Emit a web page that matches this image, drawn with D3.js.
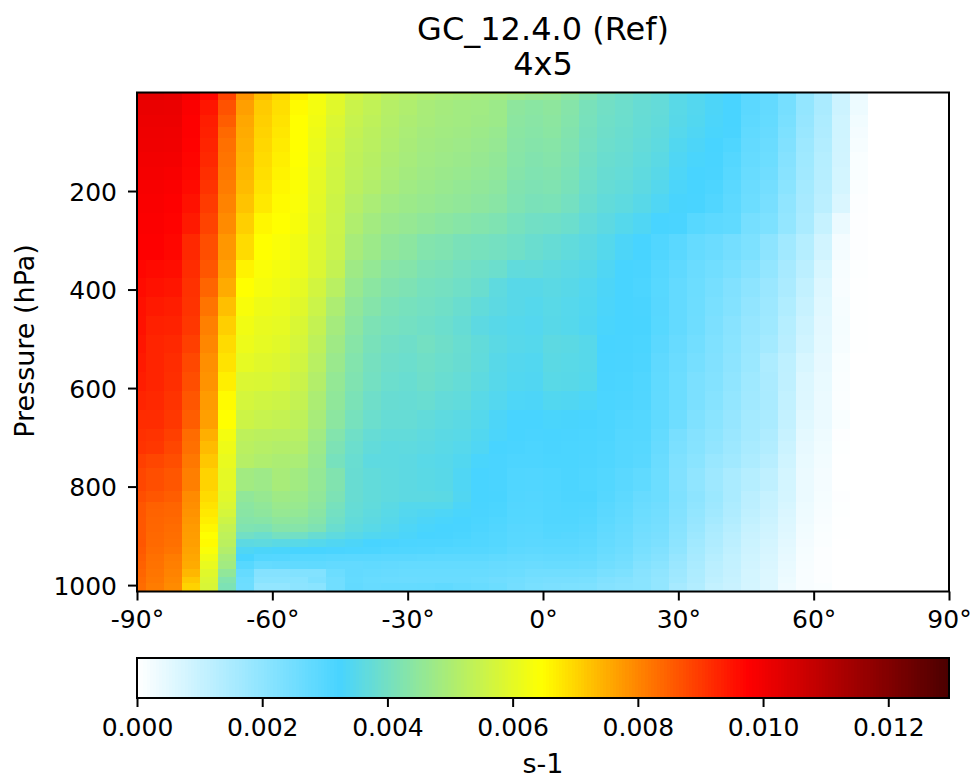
<!DOCTYPE html>
<html><head><meta charset="utf-8">
<script src="https://cdn.jsdelivr.net/npm/d3@7"></script>
<style>html,body{margin:0;padding:0;background:#fff}svg{display:block}text{font-family:"DejaVu Sans";fill:#000}</style>
</head><body><svg id="c" width="973" height="783"></svg>
<script>
const titleLines = ["GC_12.4.0 (Ref)", "4x5"];
const yLabel = "Pressure (hPa)";
const unitLabel = "s-1";
const latTicks = [-90,-60,-30,0,30,60,90];
const presTicks = [200,400,600,800,1000];
const barTicks = [0,0.002,0.004,0.006,0.008,0.010,0.012];
const latEdges = [-90,-88,-84,-80,-76,-72,-68,-64,-60,-56,-52,-48,-44,-40,-36,-32,-28,-24,-20,-16,-12,-8,-4,0,4,8,12,16,20,24,28,32,36,40,44,48,52,56,60,64,68,72,76,80,84,88,90];
const presEdges = [0,4,15,46,70,92,120,151,178,206,245,287,340,377,415,454,492,528,567,605,645,683,708,734,763,809,831,846,861,876,892,907,922,937,952,967,983,996,1013];
const colorStops = [0,0.248,0.34,0.497,0.62,0.75,1];
const colorValues = ["#ffffff","#48d4ff","#8ce6a0","#ffff00","#ff8000","#ff0000","#4a0000"];
const valueMax = 0.01297;
// zonal mean values in units of 1e-5 s-1, top row first, west to east; cells past the end are 0
const values = [
[1070,1070,1050,1030,960,900,820,770,715,680,650,640,620,605,590,575,565,560,555,550,550,545,540,530,510,480,450,430,410,395,380,365,350,335,322,300,260,200,160,100,40],
[1025,1025,1020,995,965,885,780,725,695,665,630,600,565,545,525,515,505,495,490,485,480,470,460,455,440,420,400,390,380,370,350,340,330,318,290,275,240,190,150,90,35],
[1010,1010,1008,980,945,865,765,710,685,650,625,590,550,535,515,505,492,485,480,478,470,445,438,445,430,408,395,386,376,370,352,342,330,320,288,275,240,190,150,90,32],
[1005,1005,1005,974,935,850,755,705,680,645,620,580,545,530,512,500,490,483,480,475,470,441,435,441,427,406,392,385,375,368,350,340,328,320,285,272,235,185,145,85,25],
[1002,1002,1000,974,930,835,750,700,675,645,615,575,540,525,508,495,485,480,476,470,462,438,432,438,424,403,390,382,373,364,346,335,325,318,280,268,228,180,140,85,20],
[1000,1000,998,972,925,825,745,695,670,645,610,570,535,522,505,492,482,476,472,465,458,435,428,432,420,400,386,380,370,360,340,330,322,310,275,262,222,172,135,82,15],
[995,995,992,968,920,820,740,690,665,643,605,565,532,518,500,488,478,472,468,460,452,432,424,428,416,396,382,376,366,355,336,326,320,300,270,258,215,168,130,80,10],
[990,990,985,965,912,815,735,685,660,640,600,562,530,515,495,484,474,468,462,455,448,428,420,424,412,392,378,372,362,350,332,322,318,295,265,252,210,165,128,78,10],
[985,985,980,960,905,810,730,680,655,638,598,560,525,508,490,478,470,462,456,450,442,422,416,420,408,388,374,368,358,344,328,322,312,290,262,245,205,160,125,75,8],
[982,982,975,950,895,800,720,672,650,635,595,555,515,495,478,470,462,455,450,442,435,418,410,412,400,382,368,360,350,336,324,320,305,285,258,238,195,155,120,65,6],
[978,978,970,940,885,790,705,655,645,630,590,552,505,482,465,458,448,440,432,425,418,405,395,392,385,370,358,345,335,322,318,295,285,280,240,228,190,150,100,35,4],
[974,974,965,920,870,775,690,645,635,620,585,550,490,470,450,441,425,420,410,405,400,392,382,375,365,358,345,330,322,305,290,270,260,245,228,200,165,130,80,20,4],
[965,960,955,915,860,765,660,635,625,612,580,540,475,455,435,428,415,410,400,392,385,365,368,362,356,350,335,322,318,298,282,262,250,235,215,190,155,120,70,14,3],
[958,950,945,908,840,750,645,628,618,600,565,520,462,440,424,416,405,400,392,382,362,350,350,355,350,342,330,322,315,295,275,258,240,222,200,178,148,108,60,12,2],
[952,940,935,905,820,725,632,615,608,590,552,500,450,428,412,405,398,392,382,368,358,350,345,352,346,340,328,322,318,296,275,256,235,218,192,172,138,98,55,15,2],
[950,930,928,900,804,705,620,605,600,578,540,485,441,415,405,398,392,385,375,358,350,345,342,350,345,338,325,322,320,295,275,255,230,210,185,168,130,90,50,18,2],
[945,925,920,890,795,690,612,600,592,570,530,475,432,408,396,390,398,390,380,368,355,348,345,358,355,348,322,320,316,288,268,248,225,205,180,160,125,82,48,15,1],
[940,925,915,878,785,680,600,590,582,562,520,465,425,402,390,385,392,385,378,365,350,343,340,355,352,348,320,318,312,282,262,240,222,200,175,145,115,70,42,10,0],
[935,925,912,870,780,665,580,578,570,550,510,455,420,398,385,380,388,380,372,360,348,340,338,352,350,345,318,316,308,280,258,232,218,195,168,148,112,62,38,8,0],
[925,920,905,860,770,650,568,560,555,540,498,448,412,390,378,376,380,370,365,352,342,332,330,340,338,332,316,312,305,278,258,232,212,190,165,150,108,60,36,7,0],
[915,915,900,850,765,645,555,545,540,530,490,441,405,385,375,375,368,360,355,345,330,322,322,325,324,320,315,305,300,280,255,225,205,185,160,150,105,55,35,10,0],
[910,905,890,830,745,625,530,525,522,520,478,425,392,375,368,368,362,355,352,340,328,322,318,320,318,316,312,300,298,272,238,215,198,178,158,140,98,48,30,4,0],
[905,900,880,825,730,615,522,515,510,510,470,415,385,368,360,362,358,352,346,335,322,318,314,318,316,314,310,298,295,268,232,212,192,172,152,135,92,42,26,3,0],
[890,880,870,815,715,605,515,505,498,495,462,405,380,360,360,358,352,348,340,325,318,312,312,316,316,312,308,298,292,262,225,205,180,165,145,125,85,38,22,2,0],
[880,870,860,805,700,598,480,472,490,480,455,422,378,368,362,358,354,350,335,322,318,308,305,310,314,310,302,290,280,258,222,195,170,150,130,112,78,36,20,2,0],
[870,860,850,790,690,590,450,460,475,470,450,415,378,368,362,358,358,355,338,322,320,305,303,308,312,312,298,285,268,258,225,200,175,150,120,100,75,35,18,4,0],
[860,845,840,785,680,580,440,450,465,462,442,405,375,365,355,345,345,345,330,320,316,303,302,305,310,308,292,280,262,252,222,195,170,145,118,98,70,32,15,3,0],
[860,842,838,780,672,570,436,445,458,455,436,398,372,362,352,342,338,332,325,318,314,302,300,305,308,304,288,276,258,248,218,190,165,140,112,95,65,30,14,3,0],
[858,840,835,775,665,555,428,432,445,442,428,392,368,358,348,338,330,326,322,316,310,300,298,305,306,300,284,272,255,244,214,185,158,135,108,90,62,28,12,2,0],
[858,838,830,770,655,540,418,415,430,430,416,382,362,352,342,332,326,322,320,312,306,296,295,302,302,296,280,268,250,240,210,180,150,128,100,85,58,25,10,2,0],
[858,836,828,768,645,530,395,385,400,395,378,362,350,340,335,328,322,320,316,308,302,294,292,298,296,290,274,264,245,236,205,172,145,122,95,80,55,22,8,1,0],
[860,835,825,765,650,525,358,362,355,352,345,338,330,322,318,315,312,312,310,305,300,292,288,290,290,285,270,260,240,230,200,165,140,118,92,75,50,20,8,0,0],
[855,830,820,760,635,510,335,328,325,322,322,318,316,315,310,308,305,302,300,298,295,285,282,285,285,280,265,255,235,222,195,160,135,112,88,72,45,18,6,0,0],
[850,825,810,755,620,490,322,300,298,295,295,292,290,290,288,288,286,285,285,285,280,275,272,275,275,272,258,248,228,215,185,155,128,108,85,68,42,15,6,0,0],
[845,822,805,750,605,480,295,270,275,278,280,275,275,278,275,272,272,272,272,272,268,265,262,265,265,262,250,240,218,205,178,150,122,105,80,65,38,14,5,0,0],
[840,818,800,735,590,450,270,215,215,220,220,258,275,270,268,265,265,265,265,265,262,258,250,250,250,248,235,228,210,195,170,145,118,102,78,62,35,12,5,0,0],
[835,815,795,715,580,425,258,205,205,205,225,250,272,265,262,260,262,262,262,258,252,248,240,238,238,235,222,215,205,190,165,140,112,98,78,60,32,12,5,0,0],
[830,810,790,700,575,415,255,190,190,200,205,250,275,268,270,270,272,278,270,265,258,245,235,230,228,226,215,210,205,190,155,135,105,95,75,60,28,12,8,0,0]
];

const svg = d3.select("#c");
const plot = {l:137, r:949, t:92.5, b:591.5};
const bar = {t:658, b:698};
const x = d3.scaleLinear().domain([-90,90]).range([plot.l, plot.r]);
const y = d3.scaleLinear().domain([0,1013]).range([plot.t, plot.b]);
const barX = d3.scaleLinear().domain([0,valueMax]).range([plot.l, plot.r]);
const color = d3.scaleLinear().domain(colorStops.map(t=>t*valueMax)).range(colorValues).interpolate(d3.interpolateRgb).clamp(true);

const cells = values.flatMap((row,i)=>row.map((v,j)=>({v:v*1e-5,i,j})));
svg.append("g").attr("shape-rendering","crispEdges").selectAll("rect").data(cells).join("rect")
  .attr("x",d=>x(latEdges[d.j])).attr("width",d=>x(latEdges[d.j+1])-x(latEdges[d.j]))
  .attr("y",d=>y(presEdges[d.i])).attr("height",d=>y(presEdges[d.i+1])-y(presEdges[d.i]))
  .attr("fill",d=>color(d.v));

const strokeW = 2, tickLen = 9, fs = 25, labelFs = 27, titleFs = 32;
function frame(t,b){
  svg.append("rect").attr("x",plot.l).attr("y",t).attr("width",plot.r-plot.l).attr("height",b-t)
    .attr("fill","none").attr("stroke","#000").attr("stroke-width",strokeW);
}
frame(plot.t,plot.b);

const fmtLat = d=>d+"\u00b0";
const xAxis = svg.append("g").attr("transform",`translate(0,${plot.b})`)
  .call(d3.axisBottom(x).tickValues(latTicks).tickFormat(fmtLat).tickSize(tickLen).tickPadding(9.5));
const yAxis = svg.append("g").attr("transform",`translate(${plot.l},0)`)
  .call(d3.axisLeft(y).tickValues(presTicks).tickFormat(d3.format("d")).tickSize(tickLen).tickPadding(11));

const barCells = d3.range(256).map(i=>i/256*valueMax);
svg.append("g").attr("shape-rendering","crispEdges").selectAll("rect").data(barCells).join("rect")
  .attr("x",d=>barX(d)).attr("width",(plot.r-plot.l)/256+0.6).attr("y",bar.t).attr("height",bar.b-bar.t)
  .attr("fill",d=>color(d));
frame(bar.t,bar.b);
const bAxis = svg.append("g").attr("transform",`translate(0,${bar.b})`)
  .call(d3.axisBottom(barX).tickValues(barTicks).tickFormat(d3.format(".3f")).tickSize(tickLen).tickPadding(11.5));

[xAxis,yAxis,bAxis].forEach(a=>{
  a.select(".domain").remove();
  a.selectAll("line").attr("stroke","#000").attr("stroke-width",strokeW);
  a.selectAll("text").attr("font-size",fs).attr("font-family","DejaVu Sans").attr("fill","#000");
});
yAxis.selectAll("text").attr("dy","0.36em");

svg.selectAll("text.title").data(titleLines).join("text").attr("class","title")
  .attr("x",(plot.l+plot.r)/2).attr("y",(d,i)=>40+i*35).attr("text-anchor","middle").attr("font-size",titleFs).text(d=>d);
svg.append("text").attr("x",(plot.l+plot.r)/2).attr("y",773).attr("text-anchor","middle").attr("font-size",labelFs).text(unitLabel);
svg.append("text").attr("transform",`translate(34,${(plot.t+plot.b)/2-1}) rotate(-90)`).attr("text-anchor","middle").attr("font-size",labelFs).text(yLabel);
</script></body></html>
